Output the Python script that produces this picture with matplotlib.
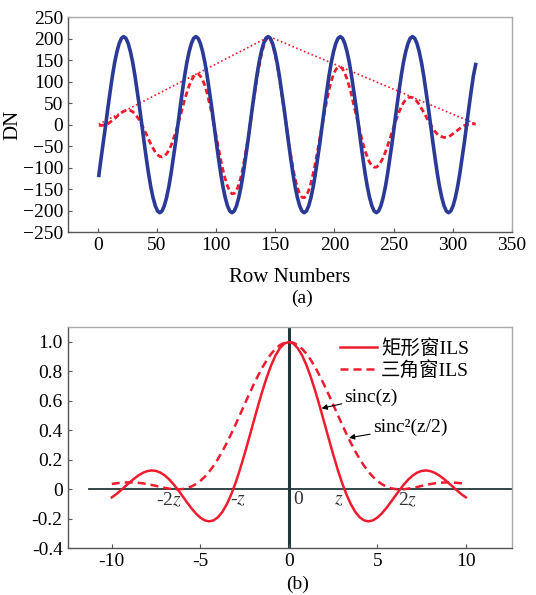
import matplotlib
matplotlib.use("Agg")
import matplotlib.pyplot as plt

plt.rcParams["font.family"] = ["Liberation Serif", "Noto Sans CJK SC"]
plt.rcParams["mathtext.fontset"] = "stix"

# (a) row profiles
rows = [1.0, 2.9, 4.8, 6.8, 8.7, 10.6, 12.5, 14.4, 16.3, 18.2, 20.1, 22.0,
        23.9, 25.8, 27.7, 29.6, 31.5, 33.4, 35.4, 37.3, 39.2, 41.1, 43.0, 44.9,
        46.8, 48.7, 50.6, 52.5, 54.4, 56.3, 58.2, 60.1, 62.0, 63.9, 65.9, 67.8,
        69.7, 71.6, 73.5, 75.4, 77.3, 79.2, 81.1, 83.0, 84.9, 86.8, 88.7, 90.6,
        92.5, 94.4, 96.4, 98.3, 100.2, 102.1, 104.0, 105.9, 107.8, 109.7, 111.6,
        113.5, 115.4, 117.3, 119.2, 121.1, 123.0, 124.9, 126.9, 128.8, 130.7,
        132.6, 134.5, 136.4, 138.3, 140.2, 142.1, 144.0, 145.9, 147.8, 149.7,
        151.6, 153.5, 155.4, 157.4, 159.3, 161.2, 163.1, 165.0, 166.9, 168.8,
        170.7, 172.6, 174.5, 176.4, 178.3, 180.2, 182.1, 184.0, 185.9, 187.9,
        189.8, 191.7, 193.6, 195.5, 197.4, 199.3, 201.2, 203.1, 205.0, 206.9,
        208.8, 210.7, 212.6, 214.5, 216.4, 218.4, 220.3, 222.2, 224.1, 226.0,
        227.9, 229.8, 231.7, 233.6, 235.5, 237.4, 239.3, 241.2, 243.1, 245.0,
        246.9, 248.9, 250.8, 252.7, 254.6, 256.5, 258.4, 260.3, 262.2, 264.1,
        266.0, 267.9, 269.8, 271.7, 273.6, 275.5, 277.4, 279.4, 281.3, 283.2,
        285.1, 287.0, 288.9, 290.8, 292.7, 294.6, 296.5, 298.4, 300.3, 302.2,
        304.1, 306.0, 307.9, 309.9, 311.8, 313.7, 315.6, 317.5, 319.4]
signal = [-118, -78, -40, 0, 40, 78, 114, 145, 170, 189, 201,
          205, 201, 189, 170, 145, 114, 78, 40, 0, -40, -78, -114, -145, -170,
          -189, -201, -205, -201, -189, -170, -145, -114, -78, -40, 0, 40, 78,
          114, 145, 170, 189, 201,
          205, 201, 189, 170, 145, 114, 78, 40, 0, -40, -78, -114, -145, -170,
          -189, -201, -205, -201, -189, -170, -145, -114, -78, -40, 0, 40, 78,
          114, 145, 170, 189, 201,
          205, 201, 189, 170, 145, 114, 78, 40, 0, -40, -78, -114, -145, -170,
          -189, -201, -205, -201, -189, -170, -145, -114, -78, -40, 0, 40, 78,
          114, 145, 170, 189, 201,
          205, 201, 189, 170, 145, 114, 78, 40, 0, -40, -78, -114, -145, -170,
          -189, -201, -205, -201, -189, -170, -145, -114, -78, -40, 0, 40, 78,
          114, 145, 170, 189, 201,
          205, 201, 189, 170, 145, 114, 78, 40, 0, -40, -78, -114, -145, -170,
          -189, -201, -205, -201, -189, -170, -145, -114, -78, -40, 0, 40, 78,
          114, 140]
windowed = [-1, -2, -1, 0, 2, 6, 10, 14, 19, 24, 28,
            31, 33, 34, 33, 30, 25, 18, 10, 0, -11, -22, -34, -45, -55,
            -64, -70, -74, -75, -73, -68, -60, -49, -34, -18, 0, 19, 39,
            58, 75, 91, 103, 112,
            117, 118, 113, 104, 91, 73, 51, 27, 0, -28, -55, -82, -106, -126,
            -143, -155, -161, -160, -153, -140, -121, -97, -67, -35, 0, 36, 71,
            106, 136, 162, 183, 197,
            204, 200, 186, 165, 140, 109, 73, 37, 0, -36, -70, -101, -127, -147,
            -161, -169, -170, -165, -153, -136, -114, -89, -60, -30, 0, 29, 56,
            81, 102, 117, 128, 134,
            135, 130, 120, 106, 89, 69, 46, 23, 0, -22, -43, -61, -76, -88,
            -95, -99, -99, -95, -87, -77, -64, -49, -33, -16, 0, 15, 29,
            41, 51, 58, 62, 64,
            63, 60, 54, 47, 38, 29, 19, 9, 0, -8, -16, -22, -26, -28,
            -30, -29, -28, -25, -21, -17, -13, -9, -5, -2, 0, 1, 2,
            2, 1]
tri_rows = [1, 145, 320]
tri_vals = [1, 205, 1]

# (b) instrument line shapes
z = [-10, -9.75, -9.5, -9.25, -9, -8.75, -8.5, -8.25, -8, -7.75, -7.5, -7.25,
     -7, -6.75, -6.5, -6.25, -6, -5.75, -5.5, -5.25, -5, -4.75, -4.5, -4.25,
     -4, -3.75, -3.5, -3.25, -3, -2.75, -2.5, -2.25, -2, -1.75, -1.5, -1.25,
     -1, -0.75, -0.5, -0.25, 0, 0.25, 0.5, 0.75, 1, 1.25, 1.5, 1.75, 2, 2.25,
     2.5, 2.75, 3, 3.25, 3.5, 3.75, 4, 4.25, 4.5, 4.75, 5, 5.25, 5.5, 5.75,
     6, 6.25, 6.5, 6.75, 7, 7.25, 7.5, 7.75, 8, 8.25, 8.5, 8.75, 9, 9.25,
     9.5, 9.75, 10]
rect_ils = [-0.0544, -0.0328, -0.0079, 0.0193, 0.0458, 0.0714, 0.0939, 0.1118,
            0.1237, 0.1283, 0.1251, 0.1135, 0.0939, 0.0667, 0.0331, -0.0053,
            -0.0466, -0.0884, -0.1283, -0.1636, -0.1918, -0.2104, -0.2172,
            -0.2106, -0.1892, -0.1524, -0.1002, -0.0333, 0.0470, 0.1388,
            0.2394, 0.3458, 0.4546, 0.5623, 0.6650, 0.7592, 0.8415, 0.9089,
            0.9589, 0.9896, 1.0, 0.9896, 0.9589, 0.9089, 0.8415, 0.7592,
            0.6650, 0.5623, 0.4546, 0.3458, 0.2394, 0.1388, 0.0470, -0.0333,
            -0.1002, -0.1524, -0.1892, -0.2106, -0.2172, -0.2104, -0.1918,
            -0.1636, -0.1283, -0.0884, -0.0466, -0.0053, 0.0331, 0.0667,
            0.0939, 0.1135, 0.1251, 0.1283, 0.1237, 0.1118, 0.0939, 0.0714,
            0.0458, 0.0193, -0.0079, -0.0328, -0.0544]
tri_ils = [0.0368, 0.0410, 0.0443, 0.0464, 0.0472, 0.0465, 0.0443, 0.0407,
           0.0358, 0.0298, 0.0232, 0.0164, 0.0100, 0.0047, 0.0011, 0.0000,
           0.0022, 0.0084, 0.0193, 0.0354, 0.0573, 0.0854, 0.1196, 0.1601,
           0.2067, 0.2589, 0.3162, 0.3776, 0.4422, 0.5089, 0.5764, 0.6433,
           0.7081, 0.7694, 0.8261, 0.8764, 0.9195, 0.9540, 0.9793, 0.9948,
           1.0, 0.9948, 0.9793, 0.9540, 0.9195, 0.8764, 0.8261, 0.7694,
           0.7081, 0.6433, 0.5764, 0.5089, 0.4422, 0.3776, 0.3162, 0.2589,
           0.2067, 0.1601, 0.1196, 0.0854, 0.0573, 0.0354, 0.0193, 0.0084,
           0.0022, 0.0000, 0.0011, 0.0047, 0.0100, 0.0164, 0.0232, 0.0298,
           0.0358, 0.0407, 0.0443, 0.0465, 0.0472, 0.0464, 0.0443, 0.0410,
           0.0368]
zero_labels = ["-2$z$", "-$z$", "0", "$z$", "2$z$"]
zero_pos = [-6.8, -2.9, 0.5, 2.8, 6.7]

RED = "#ee1c2e"
BLUE = "#2a3a96"


def style_axes(ax):
    for side in ["left", "bottom"]:
        ax.spines[side].set_color("#555555")
    for side in ["top", "right"]:
        ax.spines[side].set_color("#aaaaaa")
    for s in ax.spines.values():
        s.set_linewidth(1.0)
    ax.tick_params(direction="in", length=3, color="#555555", labelsize=14,
                   top=False, right=False)


fig = plt.figure(figsize=(5.36, 5.95), dpi=100)

ax1 = fig.add_axes([0.127, 0.610, 0.828, 0.361])
ax1.plot(tri_rows, tri_vals, color=RED, lw=1.2, linestyle=(0, (1, 1.5)))
ax1.plot(rows, windowed, color=RED, lw=2.0, linestyle=(0, (2, 1.2)))
ax1.plot(rows, signal, color=BLUE, lw=2.6, solid_joinstyle="round")
ax1.set_xlim(-25, 350)
ax1.set_ylim(-250, 250)
ax1.set_xticks(range(0, 351, 50))
ax1.set_yticks(range(-250, 251, 50))
ax1.set_xlabel("Row Numbers", fontsize=15, labelpad=10)
ax1.set_ylabel("DN", fontsize=15, labelpad=0)
style_axes(ax1)
fig.text(0.563, 0.498, "(a)", ha="center", va="center", fontsize=14)

ax2 = fig.add_axes([0.126, 0.0785, 0.829, 0.3715])
ax2.axvline(0, color="#223838", lw=2.2, zorder=1)
ax2.plot([-11.3, 12.6], [0, 0], color="#223838", lw=1.3, zorder=1)
ax2.plot(z, rect_ils, color=RED, lw=1.8, label="矩形窗ILS", zorder=3)
ax2.plot(z, tri_ils, color=RED, lw=1.8, linestyle=(0, (3.2, 2.0)),
         label="三角窗ILS", zorder=3)
ax2.set_xlim(-12.5, 12.6)
ax2.set_ylim(-0.4, 1.1)
ax2.set_xticks([-10, -5, 0, 5, 10])
ax2.set_yticks([-0.4, -0.2, 0, 0.2, 0.4, 0.6, 0.8, 1.0])
ax2.set_yticklabels(["-0.4", "-0.2", "0", "0.2", "0.4", "0.6", "0.8", "1.0"])
ax2.set_xticklabels(["-10", "-5", "0", "5", "10"])
style_axes(ax2)
ax2.legend(loc="upper right", frameon=False, fontsize=14, handlelength=1.9,
           handletextpad=0.2, labelspacing=0.15, borderaxespad=0.2,
           bbox_to_anchor=(0.93, 1.0))
for lab, xp in zip(zero_labels, zero_pos):
    ax2.text(xp, -0.07, lab, ha="center", va="center", fontsize=14,
             color="#333333")
ax2.annotate("sinc(z)", xy=(1.85, 0.55), xytext=(3.15, 0.625),
             fontsize=14, va="center", ha="left",
             arrowprops=dict(arrowstyle="-|>", color="black", lw=0.8,
                             mutation_scale=8, shrinkA=0, shrinkB=0))
ax2.annotate("sinc\u00b2(z/2)", xy=(3.4, 0.35), xytext=(4.75, 0.42),
             fontsize=14, va="center", ha="left",
             arrowprops=dict(arrowstyle="-|>", color="black", lw=0.8,
                             mutation_scale=8, shrinkA=0, shrinkB=0))
fig.text(0.555, 0.018, "(b)", ha="center", va="center", fontsize=14)

fig.savefig("out.png", dpi=100)
